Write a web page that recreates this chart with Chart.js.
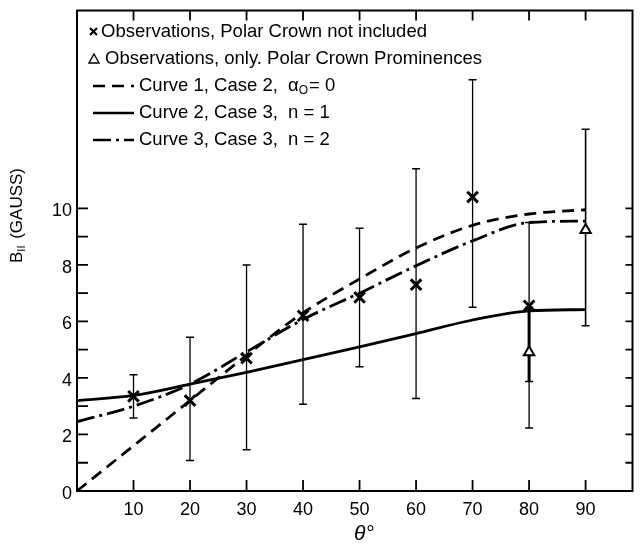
<!DOCTYPE html>
<html>
<head>
<meta charset="utf-8">
<script src="https://cdn.jsdelivr.net/npm/chart.js@4.4.1/dist/chart.umd.min.js"></script>
<style>
  body { margin: 0; background: #fff; }
  #wrap { width: 643px; height: 544px; }
</style>
</head>
<body>
<div id="wrap"><canvas id="myChart" width="643" height="544"></canvas></div>
<script>
// observations, polar crown not included
const thetaObs = [10, 20, 30, 40, 50, 60, 70, 80]
const bObs = [3.35, 3.2, 4.7, 6.2, 6.85, 7.3, 10.4, 6.55]
const bObsLow = [2.58, 1.08, 1.46, 3.07, 4.4, 3.27, 6.5, 2.23]
const bObsHigh = [4.11, 5.44, 8.0, 9.44, 9.3, 11.4, 14.55, 9.5]

// observations, only polar crown prominences
const thetaPolar = [80, 90]
const bPolar = [4.91, 9.23]
const bPolarLow = [3.87, 5.85]
const bPolarHigh = [6.5, 12.8]

// model curves
const thetaCurve = [0, 10, 20, 30, 40, 50, 60, 70, 80, 90]
const curve1 = [0, 1.6, 3.2, 4.8, 6.3, 7.5, 8.6, 9.4, 9.8, 9.95]
const curve2 = [3.2, 3.38, 3.78, 4.2, 4.65, 5.1, 5.57, 6.05, 6.37, 6.42]
const curve3 = [2.45, 3.0, 3.78, 4.92, 6.07, 7.0, 7.97, 8.85, 9.5, 9.55]

// ticks
const xTicks = [10, 20, 30, 40, 50, 60, 70, 80, 90]
const yTicks = [0, 2, 4, 6, 8, 10]
const yMinorTicks = [1, 3, 5, 7, 9]

const FONT = '"Liberation Sans", Arial, sans-serif'

const toPoints = (xs, ys) => xs.map((x, i) => ({ x: x, y: ys[i] }))

const errorBars = {
	id: 'errorBars',
	beforeDatasetsDraw(chart) {
		const { ctx, scales: { x, y } } = chart
		// the 80 deg polar bar is printed heavier than the others
		const sets = [
			[thetaObs, bObsLow, bObsHigh, () => 1.3],
			[thetaPolar, bPolarLow, bPolarHigh, i => (i === 0 ? 3 : 1.6)],
		]
		ctx.save()
		ctx.strokeStyle = '#000'
		sets.forEach(([xs, lo, hi, w]) => {
			xs.forEach((t, i) => {
				const px = x.getPixelForValue(t)
				const p1 = y.getPixelForValue(lo[i])
				const p2 = y.getPixelForValue(hi[i])
				ctx.lineWidth = w(i)
				ctx.beginPath()
				ctx.moveTo(px, p1)
				ctx.lineTo(px, p2)
				ctx.stroke()
				ctx.lineWidth = 1.5
				ctx.beginPath()
				ctx.moveTo(px - 4, p1)
				ctx.lineTo(px + 4, p1)
				ctx.moveTo(px - 4, p2)
				ctx.lineTo(px + 4, p2)
				ctx.stroke()
			})
		})
		ctx.restore()
	},
}

const frame = {
	id: 'frame',
	afterDraw(chart) {
		const { ctx, chartArea: a, scales: { x, y } } = chart
		ctx.save()
		ctx.strokeStyle = '#000'
		ctx.fillStyle = '#000'
		ctx.lineWidth = 2
		ctx.strokeRect(a.left, a.top, a.right - a.left, a.bottom - a.top)

		// inward ticks
		ctx.lineWidth = 1.8
		ctx.beginPath()
		xTicks.forEach(t => {
			const px = x.getPixelForValue(t)
			ctx.moveTo(px, a.bottom)
			ctx.lineTo(px, a.bottom - 11)
			ctx.moveTo(px, a.top)
			ctx.lineTo(px, a.top + 10)
		})
		yTicks.concat(yMinorTicks).forEach(t => {
			const py = y.getPixelForValue(t)
			ctx.moveTo(a.left, py)
			ctx.lineTo(a.left + 11, py)
			ctx.moveTo(a.right, py)
			ctx.lineTo(a.right - 7, py)
		})
		ctx.stroke()

		// tick labels
		ctx.font = '18px ' + FONT
		ctx.textAlign = 'center'
		ctx.textBaseline = 'middle'
		xTicks.forEach(t => ctx.fillText(String(t), x.getPixelForValue(t), a.bottom + 19))
		ctx.textAlign = 'right'
		yTicks.forEach(t => ctx.fillText(String(t), a.left - 5, y.getPixelForValue(t) + 3))

		// axis titles
		ctx.font = 'italic 21px ' + FONT
		ctx.textAlign = 'center'
		ctx.fillText('θ°', 364, 534)

		ctx.save()
		ctx.translate(17, 263)
		ctx.rotate(-Math.PI / 2)
		ctx.textAlign = 'left'
		ctx.font = '17px ' + FONT
		ctx.fillText('B', 0, 0)
		let w = ctx.measureText('B').width
		ctx.font = '11px ' + FONT
		ctx.fillText('II', w, 5)
		w += ctx.measureText('II').width + 2
		ctx.font = '17px ' + FONT
		ctx.fillText(' (GAUSS)', w, 0)
		ctx.restore()

		// legend
		const lx = 93
		const rows = [32, 59, 86, 113, 140]
		ctx.font = '18.5px ' + FONT
		ctx.textAlign = 'left'
		ctx.lineWidth = 2.2
		ctx.beginPath()
		ctx.moveTo(lx - 3, rows[0] - 4)
		ctx.lineTo(lx + 4, rows[0] + 3)
		ctx.moveTo(lx + 4, rows[0] - 4)
		ctx.lineTo(lx - 3, rows[0] + 3)
		ctx.stroke()
		ctx.fillText('Observations, Polar Crown not included', lx + 8, rows[0])

		ctx.lineWidth = 1.4
		ctx.beginPath()
		ctx.moveTo(lx + 1, rows[1] - 5)
		ctx.lineTo(lx + 6, rows[1] + 4)
		ctx.lineTo(lx - 4, rows[1] + 4)
		ctx.closePath()
		ctx.stroke()
		ctx.fillText('Observations, only. Polar Crown Prominences', lx + 12, rows[1])

		const samples = [[12, 7], [], [18, 5, 3, 5]]
		ctx.lineWidth = 2.6
		samples.forEach((d, i) => {
			const ry = rows[i + 2]
			ctx.setLineDash(d)
			ctx.beginPath()
			ctx.moveTo(lx, ry)
			ctx.lineTo(lx + 41, ry)
			ctx.stroke()
		})
		ctx.setLineDash([])
		let tx = lx + 46
		ctx.fillText('Curve 1, Case 2,  α', tx, rows[2])
		tx += ctx.measureText('Curve 1, Case 2,  α').width
		ctx.font = '12px ' + FONT
		ctx.fillText('O', tx, rows[2] + 5)
		tx += ctx.measureText('O').width + 1
		ctx.font = '18.5px ' + FONT
		ctx.fillText('= 0', tx, rows[2])
		ctx.fillText('Curve 2, Case 3,  n = 1', lx + 46, rows[3])
		ctx.fillText('Curve 3, Case 3,  n = 2', lx + 46, rows[4])
		ctx.restore()
	},
}

const lineSet = (data, dash) => ({
	type: 'line',
	data: toPoints(thetaCurve, data),
	borderColor: '#000',
	borderWidth: 2.8,
	borderDash: dash,
	pointRadius: 0,
	cubicInterpolationMode: 'monotone',
	fill: false,
})

const ctx = document.getElementById('myChart')

new Chart(ctx, {
	type: 'scatter',
	data: {
		datasets: [
			lineSet(curve1, [12, 7]),
			lineSet(curve2, []),
			lineSet(curve3, [18, 5, 3, 5]),
			{
				label: 'Observations, Polar Crown not included',
				data: toPoints(thetaObs, bObs),
				pointStyle: 'crossRot',
				pointRadius: 7.5,
				borderWidth: 3,
				borderColor: '#000',
			},
			{
				label: 'Observations, only Polar Crown Prominences',
				data: toPoints(thetaPolar, bPolar),
				pointStyle: 'triangle',
				pointRadius: 6,
				borderWidth: 2,
				borderColor: '#000',
				backgroundColor: '#fff',
			},
		],
	},
	options: {
		responsive: false,
		animation: false,
		layout: {
			padding: { left: 77, top: 5, right: 1, bottom: 53 },
		},
		plugins: {
			legend: { display: false },
			tooltip: { enabled: false },
		},
		scales: {
			x: { type: 'linear', min: 0, max: 98.3, display: false },
			y: { type: 'linear', min: 0, max: 17, display: false },
		},
	},
	plugins: [errorBars, frame],
})
</script>
</body>
</html>
